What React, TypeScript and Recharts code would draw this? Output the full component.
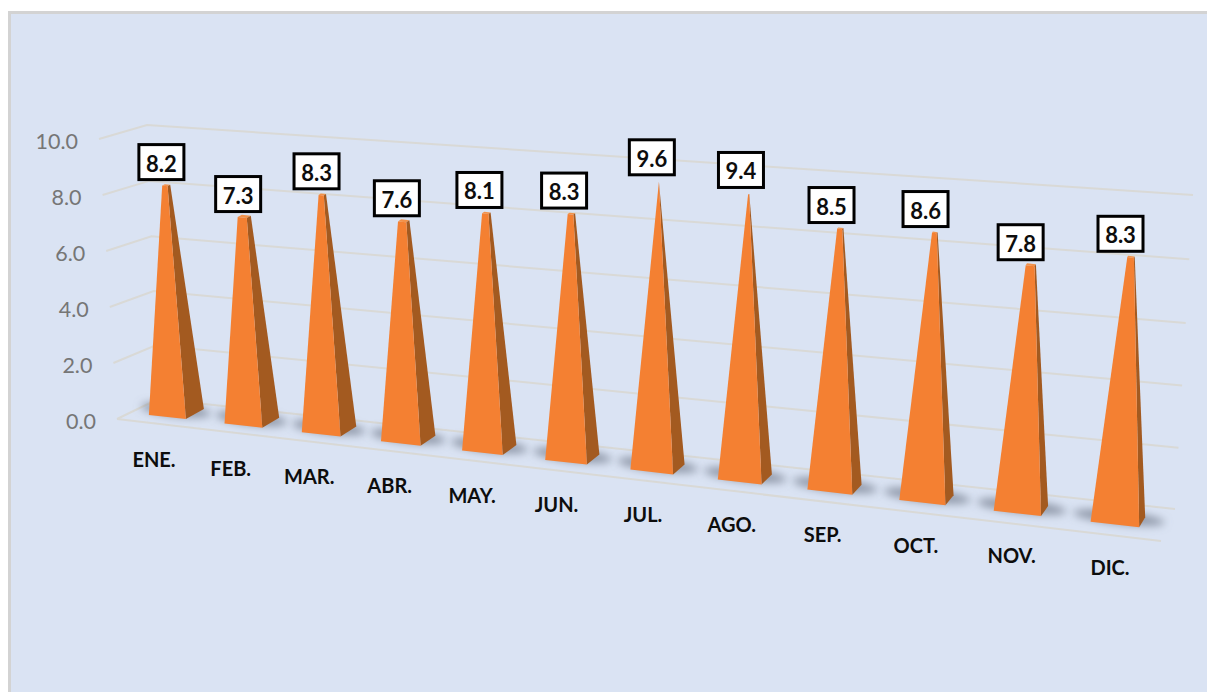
import { BarChart, Bar, XAxis, YAxis, CartesianGrid, LabelList } from 'recharts';

const months = ['ENE.', 'FEB.', 'MAR.', 'ABR.', 'MAY.', 'JUN.', 'JUL.', 'AGO.', 'SEP.', 'OCT.', 'NOV.', 'DIC.'];
const values = [8.2, 7.3, 8.3, 7.6, 8.1, 8.3, 9.6, 9.4, 8.5, 8.6, 7.8, 8.3];
const yTicks = [0, 2, 4, 6, 8, 10];
const chartData = months.map((month, i) => ({ month, value: values[i] }));

// flat plot area that recharts scales into, then bent to the 3D look below
const LEFT = 100;
const TOP = 100;
const W = 1000;
const H = 400;
const Y_MAX = 10;
const TIP = 9.6; // all pyramids close at the max value

type Pt = [number, number];

// unit square -> quad, corners in order (0,0) (1,0) (1,1) (0,1)
function makeProjection(p0: Pt, p1: Pt, p2: Pt, p3: Pt) {
  const dx1 = p1[0] - p2[0];
  const dx2 = p3[0] - p2[0];
  const dy1 = p1[1] - p2[1];
  const dy2 = p3[1] - p2[1];
  const sx = p0[0] - p1[0] + p2[0] - p3[0];
  const sy = p0[1] - p1[1] + p2[1] - p3[1];
  const den = dx1 * dy2 - dx2 * dy1;
  const g = (sx * dy2 - dx2 * sy) / den;
  const h = (dx1 * sy - sx * dy1) / den;
  const a = p1[0] - p0[0] + g * p1[0];
  const b = p3[0] - p0[0] + h * p3[0];
  const d = p1[1] - p0[1] + g * p1[1];
  const e = p3[1] - p0[1] + h * p3[1];
  return (u: number, v: number): Pt => {
    const w = g * u + h * v + 1;
    return [(a * u + b * v + p0[0]) / w, (d * u + e * v + p0[1]) / w];
  };
}

const barPlane = makeProjection([167.5, 417], [1115, 524.5], [1134, 202.5], [164.5, 135]);
const wallPlane = makeProjection([158, 399], [1175, 509], [1193, 195], [147, 125]);

const toS = (px: number) => ((px - LEFT) / W - 1 / 24) / (22 / 24);
const toV = (py: number) => (TOP + H - py) / H;
const lerp = (a: Pt, b: Pt, t: number): Pt => [a[0] + (b[0] - a[0]) * t, a[1] + (b[1] - a[1]) * t];
const pts = (list: Pt[]) => list.map((p) => p[0].toFixed(1) + ',' + p[1].toFixed(1)).join(' ');

function PyramidBar(props: any) {
  const { x, y, width } = props;
  const sMid = toS(x + width / 2);
  const v = toV(y);
  const fl = barPlane(toS(x), 0);
  const fr = barPlane(toS(x + width), 0);
  const mid = barPlane(sMid, 0);
  const sr: Pt = [fr[0] + 18 - 12 * sMid, fr[1] - 10];
  const apex = barPlane(sMid, TIP / Y_MAX);
  const t = (v * Y_MAX) / TIP;
  const tfl = lerp(fl, apex, t);
  const tfr = lerp(fr, apex, t);
  const tsr = lerp(sr, apex, t);
  const tbk: Pt = [tfl[0] + tsr[0] - tfr[0], tfl[1] + tsr[1] - tfr[1]];
  const frontW = fr[0] - fl[0];
  const sx = mid[0] + 8.5 - 4.5 * sMid;
  const sy = mid[1] - 7;
  return (
    <g>
      <ellipse
        cx={sx}
        cy={sy}
        rx={frontW * 0.95}
        ry={6.5}
        fill="#6E7887"
        fillOpacity={0.7}
        filter="url(#floorShadow)"
        transform={`rotate(6.3 ${sx} ${sy})`}
      />
      <polygon points={pts([tfl, tfr, tsr, tbk])} fill="#F2924A" />
      <polygon points={pts([fr, sr, tsr, tfr])} fill="#A35A20" />
      <polygon points={pts([fl, fr, tfr, tfl])} fill="#F48032" />
    </g>
  );
}

function ValueLabel(props: any) {
  const box = props.viewBox ?? props;
  const s = toS(box.x + box.width / 2);
  const tip = barPlane(s, toV(box.y));
  const cx = tip[0] - 3.5 - 6.5 * s;
  const cy = tip[1] - 24.5;
  return (
    <g>
      <rect x={cx - 22.5} y={cy - 17.5} width={45} height={35} fill="#ffffff" stroke="#000000" strokeWidth={3} />
      <text
        x={cx}
        y={cy + 1}
        textAnchor="middle"
        dominantBaseline="central"
        fontFamily="Lato"
        fontWeight={700}
        fontSize={22}
        fill="#0D0D0D"
      >
        {Number(props.value).toFixed(1)}
      </text>
    </g>
  );
}

function GridLine(props: any) {
  const v = toV(props.y1);
  const side = lerp([117, 419], [99, 139], v);
  const a = wallPlane(0, v);
  const b = wallPlane(1, v);
  return (
    <g key={props.key}>
      <polyline points={pts([side, a, b])} fill="none" stroke="#D9D9D6" strokeWidth={2} />
      {v === 0 && <line x1={117} y1={419} x2={1161} y2={541} stroke="#D9D9D6" strokeWidth={2} />}
    </g>
  );
}

function YTick(props: any) {
  const v = toV(props.y);
  const edge = lerp([117, 419], [99, 139], v);
  return (
    <text
      x={edge[0] - 21}
      y={edge[1] + 2}
      textAnchor="end"
      dominantBaseline="central"
      fontFamily="Lato"
      fontSize={21.5}
      fill="#767676"
    >
      {Number(props.payload.value).toFixed(1)}
    </text>
  );
}

function XTick(props: any) {
  const s = toS(props.x);
  const base = barPlane(s, 0);
  return (
    <text
      x={base[0] - 13.5 + 8.5 * s}
      y={base[1] + 42}
      textAnchor="middle"
      dominantBaseline="central"
      fontFamily="Lato"
      fontWeight={700}
      fontSize={20}
      fill="#0D0D0D"
    >
      {props.payload.value}
    </text>
  );
}

export default function App() {
  return (
    <div style={{ position: 'absolute', left: 0, top: 0, width: 1207, height: 692, overflow: 'hidden', background: '#ffffff' }}>
      <div
        style={{
          position: 'absolute',
          left: 8,
          top: 11,
          right: 0,
          bottom: 0,
          background: '#DAE3F3',
          borderLeft: '3px solid #D3D3D3',
          borderTop: '3px solid #D3D3D3',
        }}
      />
      <BarChart
        width={1207}
        height={692}
        data={chartData}
        barSize={41}
        margin={{ top: TOP, right: 1207 - LEFT - W, bottom: 692 - TOP - H - 30, left: 0 }}
        style={{ position: 'absolute', left: 0, top: 0 }}
      >
        <defs>
          <filter id="floorShadow" x="-30%" y="-150%" width="160%" height="400%">
            <feGaussianBlur stdDeviation="4.5" />
          </filter>
        </defs>
        <CartesianGrid vertical={false} horizontal={GridLine} />
        <XAxis dataKey="month" height={30} axisLine={false} tickLine={false} interval={0} tick={XTick} />
        <YAxis
          width={LEFT}
          domain={[0, Y_MAX]}
          ticks={yTicks}
          axisLine={false}
          tickLine={false}
          tick={YTick}
        />
        <Bar dataKey="value" shape={PyramidBar} isAnimationActive={false}>
          <LabelList dataKey="value" content={ValueLabel} />
        </Bar>
      </BarChart>
    </div>
  );
}
